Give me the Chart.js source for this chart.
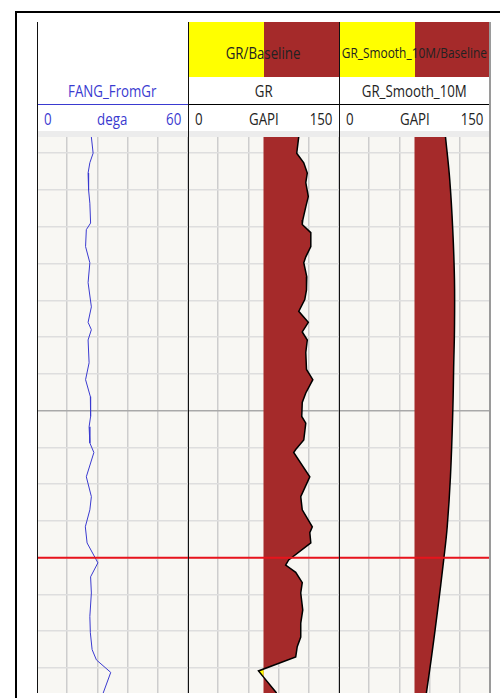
<!DOCTYPE html>
<html>
<head>
<meta charset="utf-8">
<script src="https://cdn.jsdelivr.net/npm/chart.js@4.4.1/dist/chart.umd.min.js"></script>
<style>
body { margin: 0; width: 500px; height: 698px; background: #fff; position: relative; overflow: hidden; font-family: "Open Sans", sans-serif; }
.box { position: absolute; }
.cell { position: absolute; display: flex; align-items: center; padding: 0 7px; box-sizing: border-box; font-size: 16px; color: #222; white-space: nowrap; }
.cell span { display: inline-block; transform: scaleX(0.83); }
.c { justify-content: center; }
.c span { transform-origin: center; }
.l { justify-content: flex-start; }
.l span { transform-origin: left center; }
.r { justify-content: flex-end; }
.r span { transform-origin: right center; }
.blue { color: #3a3ad0; }
.small { font-size: 14px; }
.small span { transform: scaleX(0.85); }
.plot { position: absolute; top: 137px; height: 556px; background: #f8f7f3; }
</style>
</head>
<body>

<!-- header fills -->
<div class="box" style="left:188px;top:22px;width:76px;height:55px;background:#ffff00"></div>
<div class="box" style="left:264px;top:22px;width:75px;height:55px;background:#a52a2a"></div>
<div class="box" style="left:339px;top:22px;width:76px;height:55px;background:#ffff00"></div>
<div class="box" style="left:415px;top:22px;width:75px;height:55px;background:#a52a2a"></div>

<!-- header texts -->
<div class="cell c" style="left:188px;top:25px;width:151px;height:55px"><span>GR/Baseline</span></div>
<div class="cell c small" style="left:339px;top:25px;width:151px;height:55px;padding:0"><span>GR_Smooth_10M/Baseline</span></div>

<div class="cell c blue" style="left:37px;top:77px;width:151px;height:27px"><span>FANG_FromGr</span></div>
<div class="cell c" style="left:188px;top:77px;width:151px;height:27px"><span>GR</span></div>
<div class="cell c" style="left:339px;top:77px;width:151px;height:27px"><span>GR_Smooth_10M</span></div>

<div class="cell l blue" style="left:37px;top:105px;width:151px;height:27px"><span>0</span></div>
<div class="cell c blue" style="left:37px;top:105px;width:151px;height:27px"><span>dega</span></div>
<div class="cell r blue" style="left:37px;top:105px;width:151px;height:27px"><span>60</span></div>
<div class="cell l" style="left:188px;top:105px;width:151px;height:27px"><span>0</span></div>
<div class="cell c" style="left:188px;top:105px;width:151px;height:27px"><span>GAPI</span></div>
<div class="cell r" style="left:188px;top:105px;width:151px;height:27px"><span>150</span></div>
<div class="cell l" style="left:339px;top:105px;width:151px;height:27px"><span>0</span></div>
<div class="cell c" style="left:339px;top:105px;width:151px;height:27px"><span>GAPI</span></div>
<div class="cell r" style="left:339px;top:105px;width:151px;height:27px"><span>150</span></div>

<div class="box" style="left:37px;top:131px;width:453px;height:6px;background:#ececec"></div>

<!-- tracks -->
<div class="plot" style="left:37px;width:151px"><canvas id="fangChart" width="151" height="556"></canvas></div>
<div class="plot" style="left:188px;width:151px"><canvas id="grChart" width="151" height="556"></canvas></div>
<div class="plot" style="left:339px;width:151px"><canvas id="smoothChart" width="151" height="556"></canvas></div>

<!-- borders -->
<div class="box" style="left:16px;top:11px;width:484px;height:2px;background:#000"></div>
<div class="box" style="left:15px;top:11px;width:2px;height:687px;background:#000"></div>
<div class="box" style="left:37px;top:104px;width:151px;height:1px;background:#3a3ad0"></div>
<div class="box" style="left:188px;top:104px;width:302px;height:1px;background:#000"></div>
<div class="box" style="left:37px;top:22px;width:1px;height:671px;background:#111"></div>
<div class="box" style="left:188px;top:22px;width:1px;height:671px;background:#111"></div>
<div class="box" style="left:339px;top:22px;width:1px;height:671px;background:#111"></div>
<div class="box" style="left:489px;top:22px;width:2px;height:671px;background:#9a9a9a"></div>

<script>
// depth window of the log view (m)
const depthTop = 2462.8;
const depthBottom = 2538.4;
const markerDepth = 2520;
const baselineGAPI = 75;

// FANG_FromGr (dega)
const fangDepth = [2462.8, 2465.0, 2466.3, 2467.7, 2470.0, 2471.8, 2474.5, 2475.4, 2477.7, 2479.9,
    2482.6, 2485.9, 2488.0, 2489.0, 2490.4, 2493.5, 2495.8, 2498.1, 2500.8, 2502.2,
    2504.4, 2505.7, 2509.0, 2511.7, 2513.5, 2515.8, 2518.0, 2520.7, 2522.6, 2524.8,
    2528.0, 2530.2, 2532.5, 2533.9, 2535.6, 2538.4];
const fangValue = [21.6, 22.3, 21, 20.3, 20.5, 21, 21.3, 19.6, 19.3, 21,
    20.3, 21.6, 20.3, 21.6, 20.3, 20.7, 19.3, 21.2, 21.3, 20.7,
    21, 22.6, 19.6, 21.6, 21, 19.2, 19.9, 24.2, 21.3, 21.6,
    21, 21.2, 21.9, 23.6, 29.3, 26.3];

// GR (GAPI)
const grDepth = [2462.8, 2465.0, 2466.3, 2467.7, 2469.0, 2470.9, 2472.3, 2474.1, 2474.7, 2475.8,
    2477.7, 2479.1, 2479.9, 2481.8, 2483.6, 2484.9, 2486.5, 2488.0, 2489.3, 2490.4,
    2492.1, 2494.4, 2495.8, 2497.6, 2498.9, 2500.8, 2501.7, 2504.0, 2505.3, 2505.7,
    2509.0, 2511.7, 2513.5, 2515.8, 2516.6, 2518.0, 2520.3, 2521.0, 2522.0, 2523.4,
    2524.8, 2527.1, 2528.9, 2530.8, 2532.1, 2533.5, 2535.4, 2538.4];
const grValue = [110, 108, 115, 118.5, 117, 119.5, 117, 114, 113.5, 122,
    122, 117, 115, 118, 117.7, 116, 110, 119.5, 113.5, 118.5,
    117, 117.7, 124, 117, 113.5, 113, 117, 115, 107, 105,
    121, 112, 113.5, 123.5, 121, 122, 100, 97, 107, 113.5,
    112, 114, 112, 112, 108.5, 107, 70, 88];

// GR_Smooth_10M (GAPI)
const smoothDepth = [2462.8, 2468.6, 2475.4, 2482.2, 2489.0, 2493.5, 2500.3, 2509.0, 2515.8, 2520.3, 2527.1, 2533.9, 2538.4];
const smoothValue = [105.8, 110, 113, 114.7, 114.7, 114, 113, 110.7, 107.5, 104, 98, 91.5, 86.8];

const toPoints = (depths, values) => depths.map((d, i) => ({ x: values[i], y: d }));

// yellow where the curve drops left of the baseline
const splitFill = {
    id: 'splitFill',
    beforeDatasetDraw(chart, args) {
        const ds = chart.data.datasets[args.index];
        if (!ds.lowColor) return;
        const pts = args.meta.data;
        const low = ds.data.map((p, i) => (p.x < ds.baseline ? i : -1)).filter(i => i >= 0);
        if (!low.length) return;
        const y0 = pts[Math.max(low[0] - 1, 0)].y;
        const y1 = pts[Math.min(low[low.length - 1] + 1, pts.length - 1)].y;
        const area = chart.chartArea;
        const xb = chart.scales.x.getPixelForValue(ds.baseline);
        const ctx = chart.ctx;
        ctx.save();
        ctx.beginPath();
        ctx.rect(area.left, y0, xb - area.left, y1 - y0);
        ctx.clip();
        ctx.beginPath();
        ctx.moveTo(xb + 2, pts[0].y);
        pts.forEach(p => ctx.lineTo(p.x, p.y));
        ctx.lineTo(xb + 2, pts[pts.length - 1].y);
        ctx.closePath();
        ctx.fillStyle = ds.lowColor;
        ctx.fill();
        ctx.restore();
    }
};

// red depth marker
const markerLine = {
    id: 'markerLine',
    afterDatasetsDraw(chart) {
        const y = chart.scales.y.getPixelForValue(markerDepth);
        const area = chart.chartArea;
        const ctx = chart.ctx;
        ctx.save();
        ctx.strokeStyle = '#e8141c';
        ctx.lineWidth = 2;
        ctx.beginPath();
        ctx.moveTo(area.left, y);
        ctx.lineTo(area.right, y);
        ctx.stroke();
        ctx.restore();
    }
};

function makeTrack(id, xMax, datasets) {
    new Chart(document.getElementById(id), {
        type: 'line',
        data: { datasets: datasets },
        options: {
            indexAxis: 'y',
            responsive: false,
            animation: false,
            layout: { padding: 0, autoPadding: false },
            elements: { point: { radius: 0 } },
            plugins: {
                legend: { display: false },
                tooltip: { enabled: false }
            },
            scales: {
                x: {
                    type: 'linear',
                    min: 0,
                    max: xMax,
                    ticks: { display: false, stepSize: xMax / 5 },
                    grid: { color: '#cdcdcd', lineWidth: 1.5, drawTicks: false },
                    border: { display: false }
                },
                y: {
                    type: 'linear',
                    reverse: true,
                    min: depthTop,
                    max: depthBottom,
                    afterBuildTicks: (scale) => {
                        scale.ticks = scale.ticks.filter(t => Math.abs(t.value / 5 - Math.round(t.value / 5)) < 1e-6);
                    },
                    ticks: { display: false, stepSize: 5 },
                    grid: {
                        color: (c) => (Math.round(c.tick.value) % 50 === 0 ? '#a9a9a9' : '#dedede'),
                        lineWidth: 1.5,
                        drawTicks: false
                    },
                    border: { display: false }
                }
            }
        },
        plugins: [splitFill, markerLine]
    });
}

makeTrack('fangChart', 60, [{
    data: toPoints(fangDepth, fangValue),
    borderColor: '#3a3ad0',
    borderWidth: 1,
    fill: false
}]);

makeTrack('grChart', 150, [{
    data: toPoints(grDepth, grValue),
    borderColor: '#000',
    borderWidth: 1.5,
    backgroundColor: '#a52a2a',
    fill: { value: baselineGAPI },
    lowColor: '#ffff00',
    baseline: baselineGAPI
}]);

makeTrack('smoothChart', 150, [{
    data: toPoints(smoothDepth, smoothValue),
    borderColor: '#000',
    borderWidth: 1.5,
    backgroundColor: '#a52a2a',
    fill: { value: baselineGAPI },
    tension: 0.4,
    lowColor: '#ffff00',
    baseline: baselineGAPI
}]);
</script>
</body>
</html>
